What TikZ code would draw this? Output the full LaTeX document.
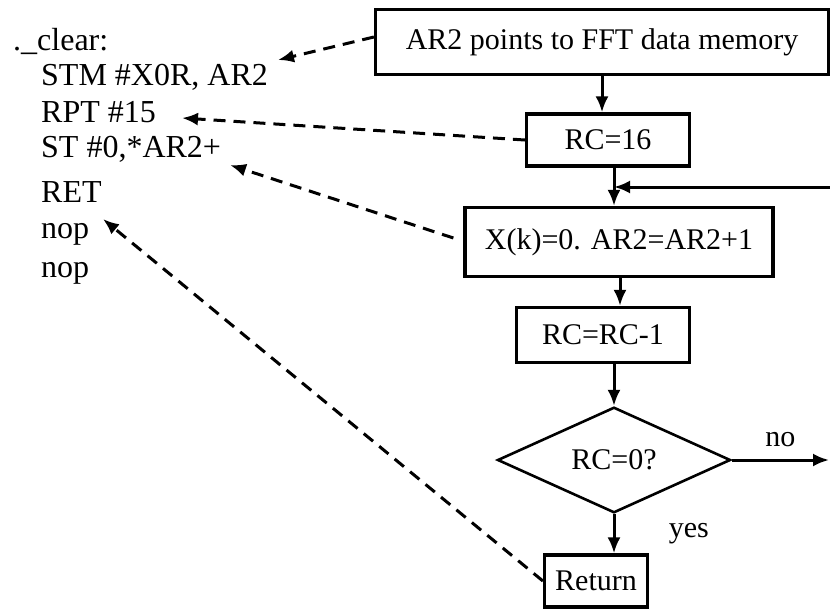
\documentclass[tikz,border=0pt]{standalone}
\usepackage{fontspec}
\setmainfont{Liberation Serif}
\usetikzlibrary{arrows.meta, calc, shapes.geometric}

\begin{document}
\begin{tikzpicture}[x=1pt, y=-1pt,
    box/.style={draw=black, line width=3.2pt, inner sep=0pt, font=\fontsize{30}{36}\selectfont},
    code/.style={anchor=base west, inner sep=1pt, font=\fontsize{32}{38}\selectfont},
    flow/.style={line width=3pt, -{Latex[length=16pt, width=13pt]}},
    link/.style={line width=3pt, dash pattern=on 12pt off 8pt, -{Latex[length=16pt, width=13pt]}}]
    \useasboundingbox (0,0) rectangle (830,611);
    % program listing
    \node[code] (clr) at (12, 50) {.\_clear:};
    \node[code] (stm) at (40, 85) {STM \#X0R, AR2};
    \node[code] (rpt) at (40, 122) {RPT \#15};
    \node[code] (st) at (40, 157) {ST \#0,*AR2+};
    \node[code] (rtc) at (40, 202) {RET};
    \node[code] (nopa) at (40, 238) {nop};
    \node[code] (nopb) at (40, 277) {nop};
    % flow chart
    \node[box, minimum width=453pt, minimum height=65pt] (mem) at (602, 42) {AR2 points to FFT data memory};
    \node[box, minimum width=163pt, minimum height=52pt] (rcset) at (608, 140) {RC=16};
    \node[box, minimum width=308pt, minimum height=69pt] (clrk) at (619, 242) {X(k)=0. AR2=AR2+1};
    \node[box, minimum width=173pt, minimum height=55pt] (rcdec) at (603, 335) {RC=RC-1};
    \node[box, diamond, line width=2.6pt, minimum width=233pt, minimum height=100pt] (test) at (614, 460) {RC=0?};
    \node[box, minimum width=103pt, minimum height=52pt] (ret) at (596, 581) {Return};
    \coordinate (loopin) at (830, 187);
    \coordinate (noout) at (829, 460);
    \draw[flow] (mem.south) -- (mem.south |- rcset.north);
    \draw[flow] (614, 0 |- rcset.south) -- (614, 0 |- clrk.north);
    \draw[flow] (loopin) -- (614, 187);
    \draw[flow] (620, 0 |- clrk.south) -- (620, 0 |- rcdec.north);
    \draw[flow] (test.north |- rcdec.south) -- (test.north);
    \draw[flow] (test.east) -- node[above=8pt, font=\fontsize{30}{36}\selectfont] {no} (noout);
    \draw[flow] (test.south) -- node[right=50pt, font=\fontsize{30}{36}\selectfont] {yes} (test.south |- ret.north);
    % references to the listing
    \draw[link] ([yshift=5pt]mem.west) -- (278, 60);
    \draw[link] (rcset.west) -- (182, 118);
    \draw[link] ([xshift=-10pt, yshift=4pt]clrk.west) -- (230, 165);
    \draw[link] (ret.west) -- (103, 219);
\end{tikzpicture}
\end{document}
